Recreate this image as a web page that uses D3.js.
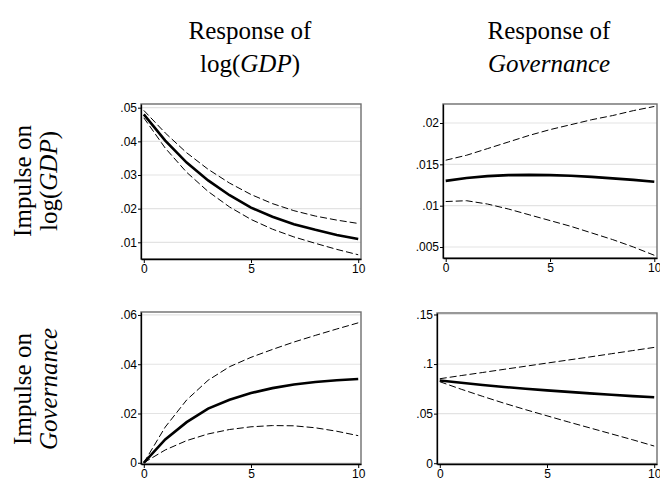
<!DOCTYPE html>
<html>
<head>
<meta charset="utf-8">
<script src="https://cdn.jsdelivr.net/npm/d3@7/dist/d3.min.js"></script>
<style>
  body { margin: 0; background: #fff; }
  .tick text { font-family: "Liberation Sans Narrow", "Liberation Sans", Arial, sans-serif; font-size: 12px; fill: #000; }
  .ttl { font-family: "Liberation Serif", "DejaVu Serif", serif; font-size: 25px; fill: #000; }
</style>
</head>
<body>
<svg id="chart" width="660" height="484"></svg>
<script>
// horizon (steps after the impulse)
var steps = [0, 1, 2, 3, 4, 5, 6, 7, 8, 9, 10];

// impulse on log(GDP) -> response of log(GDP)
var gdpGdp   = [0.0480, 0.0402, 0.0337, 0.0284, 0.0240, 0.0203, 0.0176, 0.0154, 0.0137, 0.0122, 0.0110];
var gdpGdpHi = [0.0492, 0.0425, 0.0366, 0.0317, 0.0276, 0.0242, 0.0215, 0.0194, 0.0178, 0.0166, 0.0156];
var gdpGdpLo = [0.0470, 0.0380, 0.0308, 0.0251, 0.0205, 0.0168, 0.0139, 0.0116, 0.0097, 0.0079, 0.0063];

// impulse on log(GDP) -> response of Governance
var gdpGov   = [0.0130, 0.01335, 0.01358, 0.01370, 0.01373, 0.01370, 0.01362, 0.01348, 0.01330, 0.01312, 0.0129];
var gdpGovHi = [0.0155, 0.0161, 0.0169, 0.0177, 0.0185, 0.0192, 0.0198, 0.0204, 0.0209, 0.0215, 0.0220];
var gdpGovLo = [0.0105, 0.0106, 0.0102, 0.0096, 0.0089, 0.0082, 0.0075, 0.0067, 0.0059, 0.0050, 0.0040];

// impulse on Governance -> response of log(GDP)
var govGdp   = [0, 0.0095, 0.0165, 0.0220, 0.0256, 0.0283, 0.0303, 0.0318, 0.0328, 0.0335, 0.0340];
var govGdpHi = [0, 0.0145, 0.0255, 0.0335, 0.0390, 0.0428, 0.0460, 0.0490, 0.0517, 0.0543, 0.0568];
var govGdpLo = [0, 0.0052, 0.0090, 0.0117, 0.0135, 0.0146, 0.0151, 0.0150, 0.0142, 0.0128, 0.0110];

// impulse on Governance -> response of Governance
var govGov   = [0.0835, 0.0811, 0.0789, 0.0769, 0.0751, 0.0735, 0.0719, 0.0704, 0.0690, 0.0677, 0.0665];
var govGovHi = [0.0852, 0.0884, 0.0915, 0.0947, 0.0978, 0.1010, 0.1041, 0.1072, 0.1104, 0.1136, 0.1168];
var govGovLo = [0.0822, 0.0746, 0.0674, 0.0605, 0.0540, 0.0478, 0.0416, 0.0356, 0.0296, 0.0236, 0.0173];

// tick values and their labels (stata style, no leading zero)
var xTicks = [0, 5, 10];
var ticksA = [0.01, 0.02, 0.03, 0.04, 0.05];
var labelsA = [".01", ".02", ".03", ".04", ".05"];
var ticksB = [0.005, 0.01, 0.015, 0.02];
var labelsB = [".005", ".01", ".015", ".02"];
var ticksC = [0, 0.02, 0.04, 0.06];
var labelsC = ["0", ".02", ".04", ".06"];
var ticksD = [0, 0.05, 0.1, 0.15];
var labelsD = ["0", ".05", ".1", ".15"];

var svg = d3.select("#chart");

// panel boxes, left/top/right/bottom in px
var panels = [
  { box: [141, 104, 361, 259], dom: [0.00504, 0.0511], mid: gdpGdp, hi: gdpGdpHi, lo: gdpGdpLo, ticks: ticksA, labels: labelsA },
  { box: [443, 104, 657, 258], dom: [0.00367, 0.0223], mid: gdpGov, hi: gdpGovHi, lo: gdpGovLo, ticks: ticksB, labels: labelsB },
  { box: [141, 312, 361, 464], dom: [-0.0005, 0.0612], mid: govGdp, hi: govGdpHi, lo: govGdpLo, ticks: ticksC, labels: labelsC },
  { box: [437, 313, 657, 464], dom: [-0.0008, 0.1515], mid: govGov, hi: govGovHi, lo: govGovLo, ticks: ticksD, labels: labelsD }
];

panels.forEach(function(p) {
  var x = d3.scaleLinear().domain([-0.13, 10.13]).range([p.box[0], p.box[2]]);
  var y = d3.scaleLinear().domain(p.dom).range([p.box[3], p.box[1]]);
  var g = svg.append("g");

  // grid
  g.selectAll(".grid")
    .data(p.ticks)
    .enter()
    .append("line")
    .attr("x1", p.box[0])
    .attr("x2", p.box[2])
    .attr("y1", function(d) { return y(d); })
    .attr("y2", function(d) { return y(d); })
    .attr("stroke", "#e3e3e3")
    .attr("stroke-width", 1.2);

  // frame (top and right are gray in stata)
  g.append("rect")
    .attr("x", p.box[0])
    .attr("y", p.box[1])
    .attr("width", p.box[2] - p.box[0])
    .attr("height", p.box[3] - p.box[1])
    .attr("fill", "none")
    .attr("stroke", "#6e6e6e")
    .attr("stroke-width", 1.4);

  var line = d3.line()
    .x(function(d, i) { return x(steps[i]); })
    .y(function(d) { return y(d); });

  [p.hi, p.lo].forEach(function(band) {
    g.append("path")
      .attr("d", line(band))
      .attr("fill", "none")
      .attr("stroke", "#000")
      .attr("stroke-width", 1)
      .attr("stroke-dasharray", "7,3");
  });

  g.append("path")
    .attr("d", line(p.mid))
    .attr("fill", "none")
    .attr("stroke", "#000")
    .attr("stroke-width", 2.6);

  var yAxis = d3.axisLeft(y)
    .tickValues(p.ticks)
    .tickFormat(function(d, i) { return p.labels[i]; })
    .tickSizeInner(3)
    .tickSizeOuter(0)
    .tickPadding(1);
  var ya = svg.append("g")
    .attr("transform", "translate(" + p.box[0] + ",0)")
    .call(yAxis);
  ya.select(".domain").attr("stroke-width", 1.3);

  var xAxis = d3.axisBottom(x)
    .tickValues(xTicks)
    .tickSizeInner(4)
    .tickSizeOuter(0)
    .tickPadding(1);
  var xa = svg.append("g")
    .attr("transform", "translate(0," + p.box[3] + ")")
    .call(xAxis);
  xa.select(".domain").attr("stroke-width", 1.3);
});

// column titles
var colTitles = [
  { cx: 250, lines: [[["Response of", false]], [["log(", false], ["GDP", true], [")", false]]] },
  { cx: 549, lines: [[["Response of", false]], [["Governance", true]]] }
];
colTitles.forEach(function(t) {
  t.lines.forEach(function(parts, k) {
    var txt = svg.append("text")
      .attr("class", "ttl")
      .attr("x", t.cx)
      .attr("y", 39 + k * 33)
      .attr("text-anchor", "middle");
    parts.forEach(function(pt) {
      txt.append("tspan").text(pt[0]).attr("font-style", pt[1] ? "italic" : "normal");
    });
  });
});

// row titles (rotated)
var rowTitles = [
  { cy: 181, lines: [[["Impulse on", false]], [["log(", false], ["GDP", true], [")", false]]] },
  { cy: 389, lines: [[["Impulse on", false]], [["Governance", true]]] }
];
rowTitles.forEach(function(t) {
  t.lines.forEach(function(parts, k) {
    var bx = 31 + k * 26;
    var txt = svg.append("text")
      .attr("class", "ttl")
      .attr("transform", "translate(" + bx + "," + t.cy + ") rotate(-90)")
      .attr("text-anchor", "middle");
    parts.forEach(function(pt) {
      txt.append("tspan").text(pt[0]).attr("font-style", pt[1] ? "italic" : "normal");
    });
  });
});
</script>
</body>
</html>
